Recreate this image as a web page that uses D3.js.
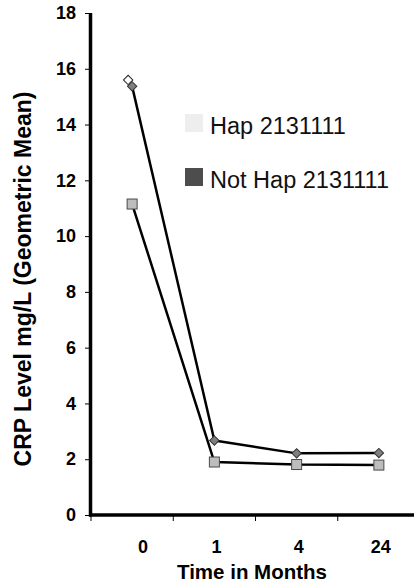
<!DOCTYPE html>
<html>
<head>
<meta charset="utf-8">
<script src="https://cdn.jsdelivr.net/npm/d3@7/dist/d3.min.js"></script>
<style>
  html, body { margin: 0; padding: 0; background: #fff; }
  svg { display: block; font-family: "Liberation Sans", Arial, sans-serif; }
</style>
</head>
<body>
<svg id="chart" width="414" height="584"></svg>
<script>
// Follow-up time points (months)
const months = ["0", "1", "4", "24"];
// Geometric mean CRP (mg/L) per group
const hapValues = [15.37, 2.67, 2.21, 2.22];      // diamond markers
const notHapValues = [11.15, 1.90, 1.81, 1.79];   // square markers
const hapBaselineExtra = [15.6];                  // open diamond at month 0
const yTicks = [0, 2, 4, 6, 8, 10, 12, 14, 16, 18];
const legendLabels = ["Hap 2131111", "Not Hap 2131111"];
const legendColors = ["#eeeeee", "#4d4d4d"];

(function () {
  const svg = d3.select("#chart");
  const plotLeft = 91, plotRight = 420, plotTop = 13, plotBottom = 515;
  const font = "Liberation Sans, Arial, sans-serif";

  const x = d3.scaleBand().domain(months).range([plotLeft, plotRight]).padding(0);
  const y = d3.scaleLinear().domain([0, 18]).range([plotBottom, plotTop]);
  const cx = d => x(d) + x.bandwidth() / 2;

  // Y axis
  const yAxis = svg.append("g").attr("transform", `translate(${plotLeft},0)`)
    .call(d3.axisLeft(y).tickValues(yTicks).tickSize(6).tickPadding(9).tickFormat(d3.format("d")));
  yAxis.select(".domain").remove();
  yAxis.selectAll(".tick line").attr("stroke", "#000").attr("stroke-width", 1);
  yAxis.selectAll(".tick text").attr("font-size", 18).attr("font-weight", "bold").attr("fill", "#000")
    .attr("font-family", font);

  // X axis: ticks at category boundaries, labels at centres
  const xAxis = svg.append("g").attr("transform", `translate(0,${plotBottom})`)
    .call(d3.axisBottom(x).tickSize(0).tickPadding(25));
  xAxis.select(".domain").remove();
  xAxis.selectAll(".tick text").attr("font-size", 18).attr("font-weight", "bold").attr("fill", "#000")
    .attr("font-family", font)
    .attr("dx", (d, i) => i === 0 ? 11 : 2);
  svg.append("g").selectAll("line").data(months).join("line")
    .attr("x1", d => x(d)).attr("x2", d => x(d))
    .attr("y1", plotBottom).attr("y2", plotBottom + 6)
    .attr("stroke", "#000").attr("stroke-width", 1);

  // Axis lines
  svg.append("line").attr("x1", plotLeft - 0.5).attr("x2", plotLeft - 0.5)
    .attr("y1", plotTop).attr("y2", plotBottom + 1.5)
    .attr("stroke", "#000").attr("stroke-width", 3.5);
  svg.append("line").attr("x1", plotLeft - 2).attr("x2", 414)
    .attr("y1", plotBottom).attr("y2", plotBottom)
    .attr("stroke", "#000").attr("stroke-width", 3.5);

  // Axis titles
  svg.append("text").attr("x", 252).attr("y", 579).attr("text-anchor", "middle")
    .attr("font-size", 20.5).attr("font-weight", "bold").text("Time in Months");
  svg.append("text").attr("transform", `translate(31,279) rotate(-90)`)
    .attr("text-anchor", "middle").attr("font-size", 23).attr("font-weight", "bold")
    .text("CRP Level mg/L (Geometric Mean)");

  // Lines
  const line = d3.line().x((d, i) => cx(months[i])).y(d => y(d));
  [hapValues, notHapValues].forEach(vals => {
    svg.append("path").attr("d", line(vals)).attr("fill", "none")
      .attr("stroke", "#000").attr("stroke-width", 2.5).attr("stroke-linejoin", "round");
  });

  // Markers: rotated squares for diamonds
  const diamond = d3.symbol().type(d3.symbolSquare).size(44);
  svg.append("g").selectAll("path").data(hapBaselineExtra).join("path")
    .attr("d", diamond)
    .attr("transform", (d, i) => `translate(${cx(months[i]) - 4},${y(d)}) rotate(45)`)
    .attr("fill", "#fff").attr("stroke", "#222").attr("stroke-width", 1);
  svg.append("g").selectAll("path").data(hapValues).join("path")
    .attr("d", diamond)
    .attr("transform", (d, i) => `translate(${cx(months[i])},${y(d)}) rotate(45)`)
    .attr("fill", "#7f7f7f").attr("stroke", "#333").attr("stroke-width", 1);
  svg.append("g").selectAll("rect").data(notHapValues).join("rect")
    .attr("x", (d, i) => cx(months[i]) - 5).attr("y", d => y(d) - 5)
    .attr("width", 10).attr("height", 10)
    .attr("fill", "#bdbdbd").attr("stroke", "#4a4a4a").attr("stroke-width", 1);

  // Legend
  const legend = svg.append("g").selectAll("g").data(legendLabels).join("g")
    .attr("transform", (d, i) => `translate(185,${114 + i * 54})`);
  legend.append("rect").attr("width", 18).attr("height", 18)
    .attr("fill", (d, i) => legendColors[i]);
  legend.append("text").attr("x", 25).attr("y", 20).attr("font-size", 23.5)
    .attr("fill", "#111").text(d => d);
})();
</script>
</body>
</html>
